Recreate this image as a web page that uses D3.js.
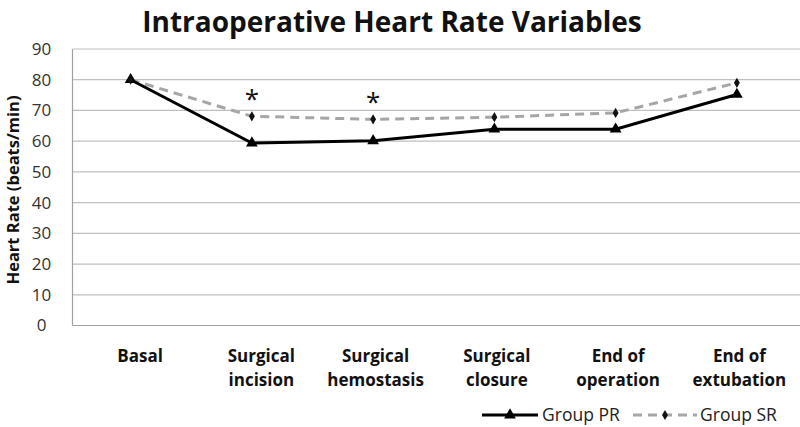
<!DOCTYPE html>
<html><head><meta charset="utf-8">
<script src="https://cdn.jsdelivr.net/npm/d3@7"></script>
<style>body{margin:0;background:#fff}svg{display:block}</style>
</head><body>
<svg id="c" width="800" height="427"></svg>
<script>
const categories = [["Basal"],["Surgical","incision"],["Surgical","hemostasis"],["Surgical","closure"],["End of","operation"],["End of","extubation"]];
const groupPR = [80, 59.4, 60.1, 63.9, 63.9, 75.2];
const groupSR = [80, 68.1, 67.1, 67.8, 69.2, 79.0];
const significant = [false, true, true, false, false, false];
const yTicks = [0,10,20,30,40,50,60,70,80,90];
const seriesNames = ["Group PR","Group SR"];

(function(){
const svg = d3.select("#c");
const pLeft = 72.5, pRight = 800, pTop = 49, pBottom = 325.5;
const font = "'Open Sans', 'Liberation Sans', sans-serif";
const x = d3.scalePoint().domain(d3.range(categories.length)).range([pLeft, pRight]).padding(0.5);
const xp = i => x(i) - 2.5;
const y = d3.scaleLinear().domain([0, 90]).range([pBottom, pTop]);

svg.append("g").selectAll("line").data(yTicks.filter(t => t > 0)).join("line")
  .attr("x1", pLeft).attr("x2", pRight).attr("y1", d => y(d)).attr("y2", d => y(d))
  .attr("stroke", "#bfbfbf").attr("stroke-width", 1.2);
svg.append("line").attr("x1", pLeft).attr("x2", pLeft).attr("y1", pTop).attr("y2", pBottom).attr("stroke", "#a0a0a0").attr("stroke-width", 1.2);
svg.append("line").attr("x1", pLeft).attr("x2", pRight).attr("y1", pBottom).attr("y2", pBottom).attr("stroke", "#a0a0a0").attr("stroke-width", 1.2);

const yAxis = d3.axisLeft(y).tickValues(yTicks).tickSize(0).tickPadding(0);
const ya = svg.append("g").attr("transform", `translate(${pLeft - 31},0)`).call(yAxis);
ya.select(".domain").remove();
ya.selectAll("text").attr("font-family", font).attr("font-size", 17).attr("fill", "#333").attr("text-anchor", "middle");

svg.append("text").attr("x", 392).attr("y", 32).attr("text-anchor", "middle")
  .attr("font-family", font).attr("font-weight", "bold").attr("font-size", 28).attr("fill", "#111")
  .text("Intraoperative Heart Rate Variables");

svg.append("text").attr("transform", `translate(19,190) rotate(-90)`).attr("text-anchor", "middle")
  .attr("font-family", font).attr("font-weight", "bold").attr("font-size", 16.5).attr("fill", "#111")
  .text("Heart Rate (beats/min)");

const cl = svg.append("g").selectAll("text").data(categories).join("text")
  .attr("text-anchor", "middle").attr("font-family", font).attr("font-weight", "bold").attr("font-size", 17).attr("fill", "#111");
cl.each(function(d, i) {
  d.forEach((ln, j) => {
    d3.select(this).append("tspan").attr("x", x(i) + (i < 2 ? 7 : 0)).attr("y", 362 + j * 24).text(ln);
  });
});

const line = vals => d3.line().x((d, i) => xp(i)).y(d => y(d))(vals);
svg.append("path").attr("d", line(groupSR)).attr("fill", "none").attr("stroke", "#a6a6a6").attr("stroke-width", 3).attr("stroke-dasharray", "9,6");
svg.append("path").attr("d", line(groupPR)).attr("fill", "none").attr("stroke", "#000").attr("stroke-width", 3);

const tri = d3.symbol().type(d3.symbolTriangle).size(60);
const dia = d3.symbol().type(d3.symbolDiamond).size(30);
svg.append("g").selectAll("path").data(groupPR).join("path")
  .attr("transform", (d, i) => `translate(${xp(i)},${y(d)})`).attr("d", tri).attr("fill", "#000");
svg.append("g").selectAll("path").data(groupSR).join("path")
  .attr("transform", (d, i) => `translate(${xp(i)},${y(d)})`).attr("d", dia).attr("fill", "#111");

svg.append("g").selectAll("text").data(groupSR.map((v, i) => ({v, i})).filter(d => significant[d.i])).join("text")
  .attr("x", d => xp(d.i)).attr("y", d => y(d.v) - 8).attr("text-anchor", "middle")
  .attr("font-family", font).attr("font-size", 26).attr("fill", "#111").text("*");

const lg = svg.append("g");
lg.append("line").attr("x1", 482).attr("x2", 538).attr("y1", 415).attr("y2", 415).attr("stroke", "#000").attr("stroke-width", 3);
lg.append("path").attr("transform", "translate(510,415)").attr("d", tri).attr("fill", "#000");
lg.append("text").attr("x", 542).attr("y", 421).attr("font-family", font).attr("font-size", 17.5).attr("fill", "#222").text(seriesNames[0]);
lg.append("line").attr("x1", 633).attr("x2", 697).attr("y1", 415).attr("y2", 415).attr("stroke", "#a6a6a6").attr("stroke-width", 3).attr("stroke-dasharray", "9,6");
lg.append("path").attr("transform", "translate(665,415)").attr("d", dia).attr("fill", "#111");
lg.append("text").attr("x", 700).attr("y", 421).attr("font-family", font).attr("font-size", 17.5).attr("fill", "#222").text(seriesNames[1]);
})();
</script>
</body></html>
